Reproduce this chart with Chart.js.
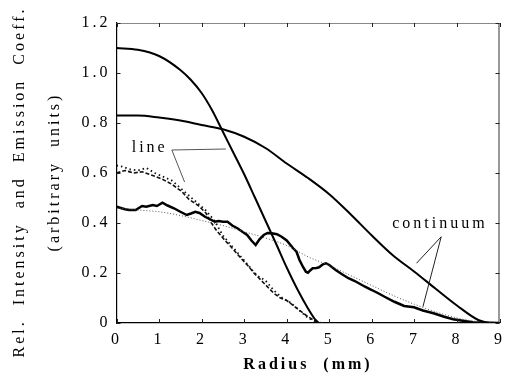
<!DOCTYPE html>
<html><head><meta charset="utf-8">
<script src="https://cdn.jsdelivr.net/npm/chart.js@4/dist/chart.umd.min.js"></script>
<style>html,body{margin:0;padding:0;background:#fff}#wrap{width:512px;height:378px}</style>
</head><body><div id="wrap"><canvas id="c" width="512" height="378"></canvas></div>
<script>
// ---- data ----
const xTicks = [0,1,2,3,4,5,6,7,8,9];
const yTicks = [0,0.2,0.4,0.6,0.8,1.0,1.2];

// emission coefficient, line (solid, high curve)
const lineCoefR = [0,0.5,1.0,1.5,1.75,2.0,2.25,2.5,2.75,3.0,3.25,3.5,3.75,4.0,4.25,4.5,4.65,4.75];
const lineCoefV = [1.1,1.093,1.068,1.012,0.972,0.92,0.85,0.765,0.68,0.595,0.503,0.41,0.317,0.222,0.135,0.058,0.018,0];

// emission coefficient, continuum (solid, wide curve)
const contCoefR = [0,0.5,1,1.5,2,2.5,3,3.5,4,4.5,5,5.5,6,6.5,7,7.5,8,8.5,8.75];
const contCoefV = [0.83,0.83,0.822,0.81,0.792,0.775,0.745,0.7,0.638,0.58,0.515,0.435,0.35,0.27,0.205,0.137,0.07,0.012,0];

// measured continuum intensity (noisy solid)
const contDataR = [0,0.1,0.2,0.3,0.45,0.6,0.7,0.85,0.95,1.08,1.2,1.35,1.5,1.65,1.75,1.85,1.95,2.08,2.2,2.31,2.4,2.5,2.61,2.72,2.84,2.95,3.07,3.17,3.27,3.36,3.46,3.55,3.65,3.77,3.88,4.0,4.15,4.23,4.3,4.38,4.45,4.5,4.55,4.61,4.7,4.76,4.85,4.92,5.0,5.15,5.3,5.45,5.6,5.84,6.0,6.15,6.3,6.53,6.76,6.99,7.2,7.45,7.7,7.91,8.1,8.37,8.6,9.0];
const contDataV = [0.465,0.46,0.455,0.452,0.452,0.468,0.465,0.472,0.468,0.481,0.47,0.459,0.445,0.432,0.438,0.445,0.44,0.425,0.415,0.405,0.408,0.405,0.405,0.39,0.379,0.366,0.352,0.33,0.312,0.335,0.352,0.36,0.359,0.355,0.345,0.33,0.299,0.285,0.252,0.225,0.205,0.201,0.21,0.219,0.22,0.223,0.235,0.239,0.232,0.212,0.195,0.179,0.168,0.145,0.132,0.119,0.105,0.085,0.068,0.063,0.05,0.039,0.025,0.015,0.01,0.003,0.002,0];

// smooth fit to continuum intensity (dotted)
const contFitR = [0,0.5,1,1.5,2,2.5,3,3.5,4,4.5,5,5.5,6,6.5,7,7.5,8,8.5,8.8];
const contFitV = [0.46,0.452,0.445,0.43,0.41,0.39,0.365,0.34,0.31,0.265,0.23,0.19,0.15,0.11,0.075,0.045,0.02,0.005,0];

// measured line intensity (dashed)
const lineDashR = [0,0.2,0.4,0.6,0.85,1.08,1.3,1.54,1.7,1.92,2.1,2.23,2.35,2.54,2.69,2.92,3.11,3.23,3.46,3.69,3.85,4.0,4.23,4.46,4.69,4.85];
const lineDashV = [0.6,0.61,0.6,0.605,0.59,0.575,0.555,0.525,0.495,0.47,0.44,0.4,0.37,0.332,0.305,0.26,0.225,0.2,0.16,0.12,0.1,0.09,0.06,0.03,0.005,0];

// measured line intensity (dotted scatter)
const lineDotR = [0,0.15,0.3,0.5,0.7,0.9,1.1,1.3,1.5,1.7,1.9,2.1,2.3,2.5,2.7,2.9,3.1,3.3,3.5,3.7,3.9,4.1,4.3,4.5,4.7];
const lineDotV = [0.63,0.625,0.615,0.61,0.62,0.6,0.585,0.57,0.54,0.51,0.48,0.45,0.41,0.35,0.31,0.27,0.23,0.19,0.17,0.13,0.1,0.08,0.05,0.02,0.005];

const lineLabel = "line";
const contLabel = "continuum";
const xTitle = "Radius  (mm)";
const yTitle1 = "Rel.  Intensity  and  Emission  Coeff.";
const yTitle2 = "(arbitrary  units)";

// ---- build ----
const pts = (r, v) => r.map((x, i) => ({x, y: v[i]}));
const FONT = '"Liberation Serif", "Times New Roman", serif';
const LS = '3px';

const decor = {
  id: 'decor',
  beforeUpdate(chart) { chart.ctx.letterSpacing = LS; },
  beforeDraw(chart) { chart.ctx.letterSpacing = LS; },
  afterDraw(chart) {
    const ctx = chart.ctx, xs = chart.scales.x, ys = chart.scales.y, a = chart.chartArea;
    ctx.save();
    ctx.lineWidth = 1;
    ctx.strokeStyle = '#888';
    ctx.beginPath(); ctx.moveTo(a.left, a.top + 0.5); ctx.lineTo(a.right, a.top + 0.5); ctx.stroke();
    ctx.strokeStyle = '#333';
    ctx.beginPath(); ctx.moveTo(a.right - 0.5, a.top); ctx.lineTo(a.right - 0.5, a.bottom); ctx.stroke();
    ctx.strokeStyle = '#222';
    const L = 4;
    xTicks.forEach(t => {
      const p = Math.round(xs.getPixelForValue(t)) + 0.5;
      ctx.beginPath(); ctx.moveTo(p, a.bottom); ctx.lineTo(p, a.bottom - L); ctx.stroke();
      ctx.beginPath(); ctx.moveTo(p, a.top); ctx.lineTo(p, a.top + L); ctx.stroke();
    });
    yTicks.forEach(t => {
      const p = Math.round(ys.getPixelForValue(t)) + 0.5;
      ctx.beginPath(); ctx.moveTo(a.left, p); ctx.lineTo(a.left + L, p); ctx.stroke();
      ctx.beginPath(); ctx.moveTo(a.right, p); ctx.lineTo(a.right - L, p); ctx.stroke();
    });
    const P = (x, y) => [xs.getPixelForValue(x), ys.getPixelForValue(y)];
    ctx.lineWidth = 1;
    ctx.strokeStyle = '#555';
    let v = P(1.30, 0.692), e1 = P(2.57, 0.696), e2 = P(1.60, 0.564);
    ctx.beginPath(); ctx.moveTo(...e1); ctx.lineTo(...v); ctx.lineTo(...e2); ctx.stroke();
    v = P(7.63, 0.345); e1 = P(7.05, 0.239); e2 = P(7.2, 0.065);
    ctx.strokeStyle = '#222';
    ctx.beginPath(); ctx.moveTo(...e1); ctx.lineTo(...v); ctx.lineTo(...e2); ctx.stroke();
    ctx.letterSpacing = LS;
    ctx.fillStyle = '#000';
    ctx.font = '16px ' + FONT;
    ctx.textAlign = 'center'; ctx.textBaseline = 'middle';
    let q = P(0.78, 0.702); ctx.fillText(lineLabel, q[0], q[1]);
    q = P(7.6, 0.396); ctx.fillText(contLabel, q[0], q[1]);
    ctx.save();
    ctx.translate(20, 182); ctx.rotate(-Math.PI / 2);
    ctx.fillText(yTitle1, 0, 0);
    ctx.restore();
    ctx.save();
    ctx.translate(55, 172); ctx.rotate(-Math.PI / 2);
    ctx.fillText(yTitle2, 0, 0);
    ctx.restore();
    ctx.restore();
  }
};

new Chart(document.getElementById('c'), {
  type: 'line',
  data: {
    datasets: [
      {label: 'line coeff', data: pts(lineCoefR, lineCoefV), borderColor: '#000', borderWidth: 2, cubicInterpolationMode: 'monotone'},
      {label: 'continuum coeff', data: pts(contCoefR, contCoefV), borderColor: '#000', borderWidth: 2, cubicInterpolationMode: 'monotone'},
      {label: 'continuum fit', data: pts(contFitR, contFitV), borderColor: '#555', borderWidth: 1, borderDash: [1, 2], cubicInterpolationMode: 'monotone'},
      {label: 'continuum data', data: pts(contDataR, contDataV), borderColor: '#000', borderWidth: 2.5, tension: 0},
      {label: 'line dashed', data: pts(lineDashR, lineDashV), borderColor: '#111', borderWidth: 1.6, borderDash: [4, 2], tension: 0},
      {label: 'line dotted', data: pts(lineDotR, lineDotV), borderColor: '#111', borderWidth: 1.8, borderDash: [1.5, 3], tension: 0}
    ]
  },
  options: {
    animation: false,
    responsive: false,
    devicePixelRatio: 1,
    elements: {point: {radius: 0}},
    layout: {padding: {left: 0, top: 23, right: 5, bottom: 0}},
    plugins: {legend: {display: false}, tooltip: {enabled: false}},
    scales: {
      x: {
        type: 'linear', min: 0, max: 9,
        afterFit(s) { s.height = 55; },
        afterBuildTicks(s) { s.ticks = xTicks.map(v => ({value: v})); },
        grid: {display: false, drawTicks: false},
        border: {display: true, color: '#000', width: 1.2},
        ticks: {color: '#000', padding: 7, maxRotation: 0, font: {family: FONT, size: 16}, callback: v => String(v)},
        title: {display: true, text: xTitle, color: '#000', padding: {top: 4}, font: {family: FONT, size: 16, weight: 'bold'}}
      },
      y: {
        type: 'linear', min: 0, max: 1.2,
        afterFit(s) { s.width = 116.5; },
        afterBuildTicks(s) { s.ticks = yTicks.map(v => ({value: v})); },
        grid: {display: false, drawTicks: false},
        border: {display: true, color: '#000', width: 1.2},
        ticks: {color: '#000', padding: 6, font: {family: FONT, size: 16}, callback: v => v === 0 ? '0' : v.toFixed(1)}
      }
    }
  },
  plugins: [decor]
});
</script>
</body></html>
